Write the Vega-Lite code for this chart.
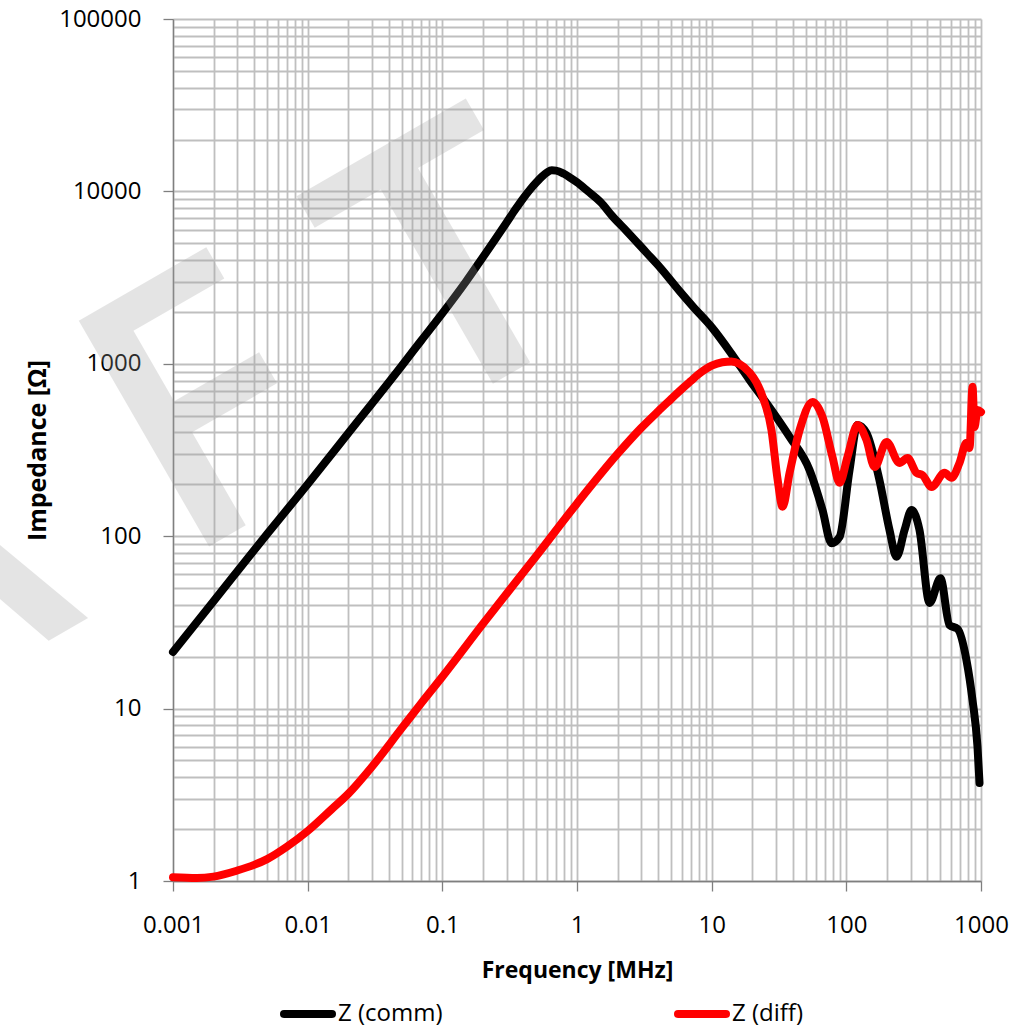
{
  "$schema": "https://vega.github.io/schema/vega-lite/v6.json",
  "width": 808,
  "height": 862,
  "autosize": {"type": "none"},
  "padding": {"left": 173, "top": 19, "right": 50, "bottom": 147},
  "background": "white",
  "config": {"view": {"stroke": null}},
  "datasets": {
    "curves": [
      {"series": "Z (comm)", "f": 0.001, "z": 21.3},
      {"series": "Z (comm)", "f": 0.002, "z": 42},
      {"series": "Z (comm)", "f": 0.005, "z": 103},
      {"series": "Z (comm)", "f": 0.01, "z": 200},
      {"series": "Z (comm)", "f": 0.02, "z": 395},
      {"series": "Z (comm)", "f": 0.05, "z": 975},
      {"series": "Z (comm)", "f": 0.07, "z": 1370},
      {"series": "Z (comm)", "f": 0.1, "z": 1960},
      {"series": "Z (comm)", "f": 0.15, "z": 3000},
      {"series": "Z (comm)", "f": 0.2, "z": 4150},
      {"series": "Z (comm)", "f": 0.25, "z": 5350},
      {"series": "Z (comm)", "f": 0.3, "z": 6600},
      {"series": "Z (comm)", "f": 0.35, "z": 7900},
      {"series": "Z (comm)", "f": 0.4, "z": 9150},
      {"series": "Z (comm)", "f": 0.45, "z": 10300},
      {"series": "Z (comm)", "f": 0.5, "z": 11300},
      {"series": "Z (comm)", "f": 0.55, "z": 12200},
      {"series": "Z (comm)", "f": 0.6, "z": 12900},
      {"series": "Z (comm)", "f": 0.65, "z": 13250},
      {"series": "Z (comm)", "f": 0.7, "z": 13200},
      {"series": "Z (comm)", "f": 0.8, "z": 12650},
      {"series": "Z (comm)", "f": 0.9, "z": 11950},
      {"series": "Z (comm)", "f": 1.0, "z": 11300},
      {"series": "Z (comm)", "f": 1.2, "z": 10050},
      {"series": "Z (comm)", "f": 1.5, "z": 8650},
      {"series": "Z (comm)", "f": 1.84, "z": 7150},
      {"series": "Z (comm)", "f": 2.33, "z": 5900},
      {"series": "Z (comm)", "f": 3.29, "z": 4400},
      {"series": "Z (comm)", "f": 4.1, "z": 3650},
      {"series": "Z (comm)", "f": 5.78, "z": 2640},
      {"series": "Z (comm)", "f": 7.21, "z": 2160},
      {"series": "Z (comm)", "f": 10.2, "z": 1600},
      {"series": "Z (comm)", "f": 14.3, "z": 1120},
      {"series": "Z (comm)", "f": 19.1, "z": 807},
      {"series": "Z (comm)", "f": 25.6, "z": 590},
      {"series": "Z (comm)", "f": 37.9, "z": 377},
      {"series": "Z (comm)", "f": 53.3, "z": 242},
      {"series": "Z (comm)", "f": 66.5, "z": 142},
      {"series": "Z (comm)", "f": 77.6, "z": 91},
      {"series": "Z (comm)", "f": 89.1, "z": 99},
      {"series": "Z (comm)", "f": 105.6, "z": 242},
      {"series": "Z (comm)", "f": 121, "z": 442},
      {"series": "Z (comm)", "f": 141, "z": 397},
      {"series": "Z (comm)", "f": 176, "z": 212},
      {"series": "Z (comm)", "f": 209, "z": 109},
      {"series": "Z (comm)", "f": 236, "z": 76},
      {"series": "Z (comm)", "f": 271, "z": 109},
      {"series": "Z (comm)", "f": 305, "z": 142},
      {"series": "Z (comm)", "f": 349, "z": 109},
      {"series": "Z (comm)", "f": 415, "z": 41},
      {"series": "Z (comm)", "f": 500, "z": 57},
      {"series": "Z (comm)", "f": 583, "z": 30.5},
      {"series": "Z (comm)", "f": 670, "z": 29},
      {"series": "Z (comm)", "f": 780, "z": 19.1},
      {"series": "Z (comm)", "f": 865, "z": 11.2},
      {"series": "Z (comm)", "f": 942, "z": 6.0},
      {"series": "Z (comm)", "f": 975, "z": 3.7},
      {"series": "Z (diff)", "f": 0.001, "z": 1.05},
      {"series": "Z (diff)", "f": 0.0015, "z": 1.04},
      {"series": "Z (diff)", "f": 0.002, "z": 1.06},
      {"series": "Z (diff)", "f": 0.003, "z": 1.15},
      {"series": "Z (diff)", "f": 0.004, "z": 1.24},
      {"series": "Z (diff)", "f": 0.005, "z": 1.34},
      {"series": "Z (diff)", "f": 0.007, "z": 1.58},
      {"series": "Z (diff)", "f": 0.01, "z": 1.95},
      {"series": "Z (diff)", "f": 0.015, "z": 2.6},
      {"series": "Z (diff)", "f": 0.02, "z": 3.2},
      {"series": "Z (diff)", "f": 0.03, "z": 4.6},
      {"series": "Z (diff)", "f": 0.05, "z": 7.7},
      {"series": "Z (diff)", "f": 0.07, "z": 10.8},
      {"series": "Z (diff)", "f": 0.1, "z": 15.3},
      {"series": "Z (diff)", "f": 0.2, "z": 31},
      {"series": "Z (diff)", "f": 0.5, "z": 77},
      {"series": "Z (diff)", "f": 1.0, "z": 155},
      {"series": "Z (diff)", "f": 2.0, "z": 300},
      {"series": "Z (diff)", "f": 3.0, "z": 425},
      {"series": "Z (diff)", "f": 4.0, "z": 530},
      {"series": "Z (diff)", "f": 5.0, "z": 625},
      {"series": "Z (diff)", "f": 6.0, "z": 715},
      {"series": "Z (diff)", "f": 7.0, "z": 795},
      {"series": "Z (diff)", "f": 8.0, "z": 870},
      {"series": "Z (diff)", "f": 10, "z": 975},
      {"series": "Z (diff)", "f": 12, "z": 1020},
      {"series": "Z (diff)", "f": 14, "z": 1030},
      {"series": "Z (diff)", "f": 16, "z": 1000},
      {"series": "Z (diff)", "f": 19.1, "z": 890},
      {"series": "Z (diff)", "f": 21.5, "z": 780},
      {"series": "Z (diff)", "f": 23.9, "z": 643},
      {"series": "Z (diff)", "f": 27.8, "z": 413},
      {"series": "Z (diff)", "f": 30.9, "z": 212},
      {"series": "Z (diff)", "f": 33.6, "z": 148},
      {"series": "Z (diff)", "f": 37.9, "z": 233},
      {"series": "Z (diff)", "f": 45, "z": 413},
      {"series": "Z (diff)", "f": 56.1, "z": 601},
      {"series": "Z (diff)", "f": 66.5, "z": 492},
      {"series": "Z (diff)", "f": 78.9, "z": 288},
      {"series": "Z (diff)", "f": 89.1, "z": 204},
      {"series": "Z (diff)", "f": 102, "z": 288},
      {"series": "Z (diff)", "f": 121, "z": 442},
      {"series": "Z (diff)", "f": 141, "z": 362},
      {"series": "Z (diff)", "f": 162, "z": 252},
      {"series": "Z (diff)", "f": 199, "z": 352},
      {"series": "Z (diff)", "f": 248, "z": 266},
      {"series": "Z (diff)", "f": 285, "z": 284},
      {"series": "Z (diff)", "f": 332, "z": 233},
      {"series": "Z (diff)", "f": 368, "z": 226},
      {"series": "Z (diff)", "f": 430, "z": 193},
      {"series": "Z (diff)", "f": 536, "z": 233},
      {"series": "Z (diff)", "f": 604, "z": 218},
      {"series": "Z (diff)", "f": 692, "z": 266},
      {"series": "Z (diff)", "f": 780, "z": 348},
      {"series": "Z (diff)", "f": 822, "z": 325},
      {"series": "Z (diff)", "f": 865, "z": 735},
      {"series": "Z (diff)", "f": 895, "z": 430},
      {"series": "Z (diff)", "f": 942, "z": 540},
      {"series": "Z (diff)", "f": 1000, "z": 525}
    ]
  },
  "layer": [
    {
      "data": {"name": "curves"},
      "mark": {"type": "line", "strokeWidth": 8, "interpolate": "monotone", "strokeCap": "round", "strokeJoin": "round"},
      "encoding": {
        "x": {
          "field": "f", "type": "quantitative",
          "scale": {"type": "log", "domain": [0.001, 1000], "nice": false},
          "axis": {
            "title": "Frequency [MHz]",
            "values": [0.001,0.002,0.003,0.004,0.005,0.006,0.007,0.008,0.009,0.01,0.02,0.03,0.04,0.05,0.06,0.07,0.08,0.09,0.1,0.2,0.3,0.4,0.5,0.6,0.7,0.8,0.9,1,2,3,4,5,6,7,8,9,10,20,30,40,50,60,70,80,90,100,200,300,400,500,600,700,800,900,1000],
            "format": "~g",
            "labelExpr": "indexof([0.001,0.01,0.1,1,10,100,1000], datum.value) >= 0 ? datum.label : ''",
            "tickOpacity": {"condition": {"test": "indexof([0.001,0.01,0.1,1,10,100,1000], datum.value) >= 0", "value": 1}, "value": 0},
            "tickSize": 10, "tickColor": "#7f7f7f", "tickWidth": 1.3,
            "domainColor": "#7f7f7f", "domainWidth": 1.3,
            "gridColor": "#bfbfbf", "gridWidth": 1.8,
            "labelFont": "Open Sans", "labelFontSize": 24, "labelColor": "#000000", "labelPadding": 22,
            "labelOverlap": false, "labelFlush": false,
            "titleFont": "Open Sans", "titleFontSize": 23, "titleFontWeight": "bold", "titleColor": "#000000", "titlePadding": 22
          }
        },
        "y": {
          "field": "z", "type": "quantitative",
          "scale": {"type": "log", "domain": [1, 100000], "nice": false},
          "axis": {
            "title": "Impedance [Ω]",
            "values": [1,2,3,4,5,6,7,8,9,10,20,30,40,50,60,70,80,90,100,200,300,400,500,600,700,800,900,1000,2000,3000,4000,5000,6000,7000,8000,9000,10000,20000,30000,40000,50000,60000,70000,80000,90000,100000],
            "format": "~g",
            "labelExpr": "indexof([1,10,100,1000,10000,100000], datum.value) >= 0 ? datum.label : ''",
            "tickOpacity": {"condition": {"test": "indexof([1,10,100,1000,10000,100000], datum.value) >= 0", "value": 1}, "value": 0},
            "tickSize": 10, "tickColor": "#7f7f7f", "tickWidth": 1.3,
            "domainColor": "#7f7f7f", "domainWidth": 1.3,
            "gridColor": "#bfbfbf", "gridWidth": 1.8,
            "labelFont": "Open Sans", "labelFontSize": 24, "labelColor": "#000000", "labelPadding": 22,
            "labelOverlap": false,
            "titleFont": "Open Sans", "titleFontSize": 25, "titleFontWeight": "bold", "titleColor": "#000000", "titlePadding": 8
          }
        },
        "color": {
          "field": "series", "type": "nominal",
          "scale": {"domain": ["Z (comm)", "Z (diff)"], "range": ["#000000", "#ff0000"]},
          "legend": {
            "orient": "none", "legendX": 107, "legendY": 967, "direction": "horizontal",
            "title": null, "padding": 0,
            "symbolType": "stroke", "symbolStrokeWidth": 8, "symbolSize": 2304,
            "labelFont": "Open Sans", "labelFontSize": 24, "labelColor": "#000000", "labelOffset": 2,
            "columnPadding": 219,
            "encode": {"symbols": {"update": {"strokeCap": {"value": "round"}}}}
          }
        }
      }
    },
    {
      "data": {"values": [{}]},
      "mark": {"type": "text", "text": "A", "font": "Open Sans", "fontWeight": 600, "fontSize": 365, "angle": 330, "align": "center", "baseline": "alphabetic", "fill": "#9f9f9f", "opacity": 0.27},
      "encoding": {"x": {"datum": 0.0000393}, "y": {"datum": 15.0}}
    },
    {
      "data": {"values": [{}]},
      "mark": {"type": "text", "text": "F", "font": "Open Sans", "fontWeight": 600, "fontSize": 365, "angle": 330, "align": "center", "baseline": "alphabetic", "fill": "#9f9f9f", "opacity": 0.27},
      "encoding": {"x": {"datum": 0.00471}, "y": {"datum": 132.8}}
    },
    {
      "data": {"values": [{}]},
      "mark": {"type": "text", "text": "T", "font": "Open Sans", "fontWeight": 600, "fontSize": 365, "angle": 330, "align": "center", "baseline": "alphabetic", "fill": "#9f9f9f", "opacity": 0.27},
      "encoding": {"x": {"datum": 0.3266}, "y": {"datum": 885}}
    }
  ]
}
